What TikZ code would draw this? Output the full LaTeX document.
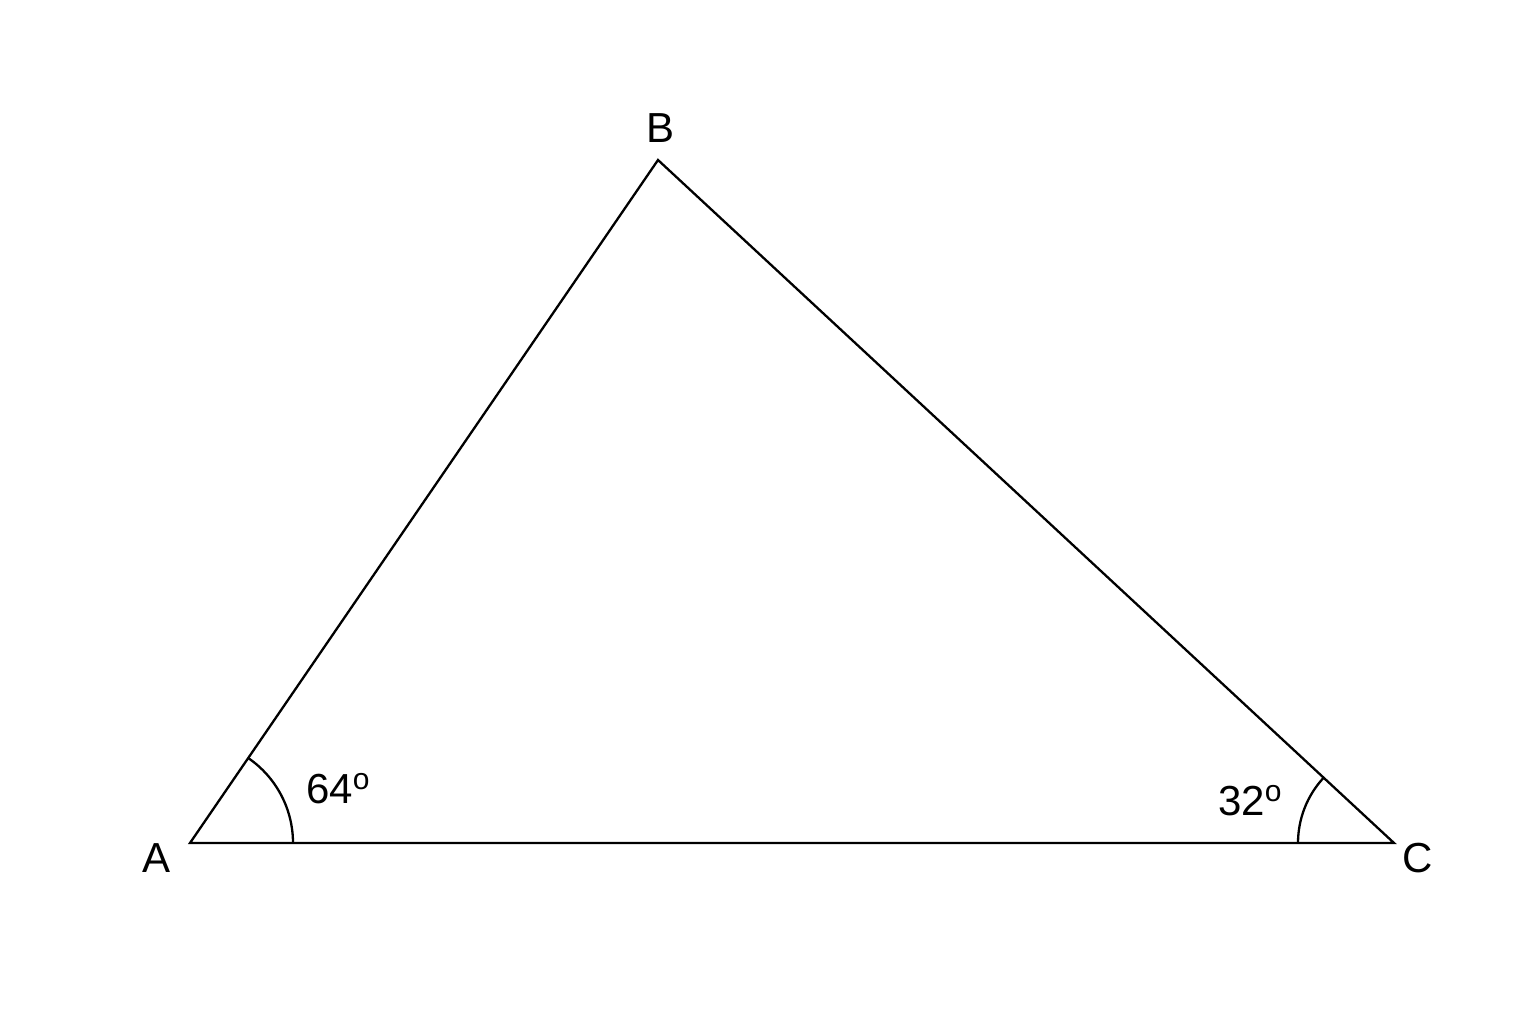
\documentclass[tikz,border=0pt]{standalone}
\usepackage{fontspec}
\setmainfont{Liberation Sans}
\newcommand{\dego}{\raisebox{14pt}{\fontsize{30}{32}\selectfont o}}
\tikzset{
  side/.style={line width=2.3pt, line join=miter},
  anglearc/.style={line width=2.3pt},
  vlabel/.style={font=\fontsize{42}{48}\selectfont, inner sep=0pt},
  alabel/.style={font=\fontsize{42}{48}\selectfont, inner sep=0pt}
}
\begin{document}
\begin{tikzpicture}[x=1pt,y=-1pt]
\useasboundingbox (0,0) rectangle (1536,1024);
\coordinate (A) at (190,843);
\coordinate (B) at (658,160);
\coordinate (C) at (1394,843);
\draw[side] (A) -- (B) -- (C) -- cycle;
\draw[anglearc] ([xshift=103pt]A) arc[start angle=0, end angle=55.6, radius=103pt];
\draw[anglearc] ([xshift=-96pt]C) arc[start angle=180, end angle=137.1, radius=96pt];
\node[vlabel] (la) at (157,858) {A};
\node[vlabel] (lb) at (660,128) {B};
\node[vlabel] (lc) at (1418,858) {C};
\node[alabel, anchor=base west] (a64) at (306,803) {64\dego};
\node[alabel, anchor=base west] (a32) at (1218,815) {32\dego};
\end{tikzpicture}
\end{document}
